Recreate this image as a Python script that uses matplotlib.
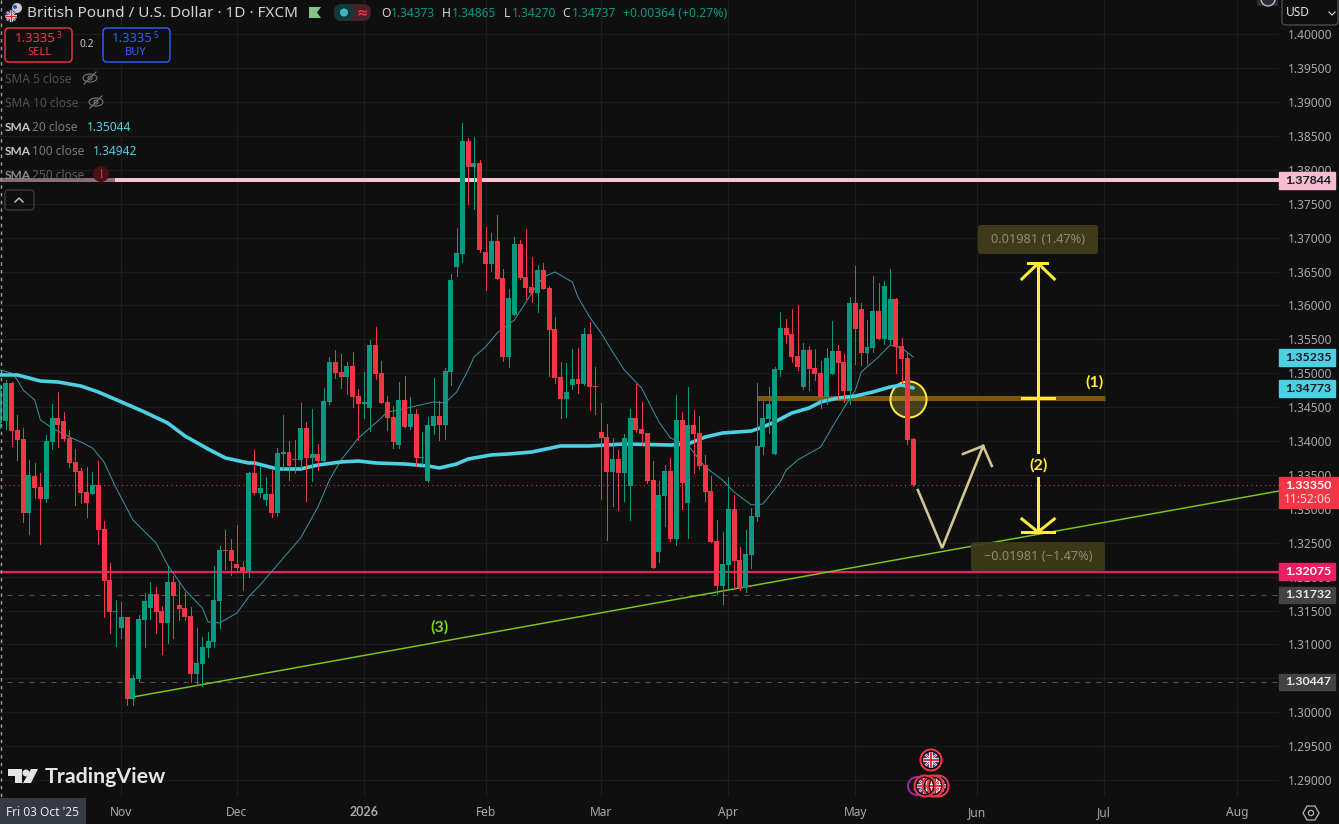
import matplotlib
matplotlib.use('Agg')
import matplotlib.pyplot as plt
from matplotlib.patches import Circle, Rectangle, FancyBboxPatch, Polygon, Ellipse

plt.rcParams['font.family'] = ['Noto Sans', 'DejaVu Sans']

opens = [1.34267,1.34296,1.34857,1.34163,1.34031,1.32939,1.33485,1.33323,1.33146,1.33986,
         1.34341,1.34296,1.34045,1.33692,1.33559,1.33249,1.33219,1.33352,1.32703,1.31951,
         1.31479,1.31243,1.31405,1.30196,1.30491,1.31361,1.31538,1.31745,1.31494,1.31317,
         1.31921,1.31582,1.31538,1.31420,1.30565,1.30712,1.30948,1.31036,1.31641,1.32394,
         1.32394,1.32187,1.32143,1.32084,1.33529,1.33234,1.33131,1.33219,1.32939,1.33810,
         1.33839,1.33736,1.33721,1.34193,1.33751,1.33810,1.33706,1.34577,1.35166,1.35019,
         1.34945,1.35108,1.34665,1.34547,1.34488,1.35417,1.35004,1.34577,1.34355,1.33942,
         1.34606,1.34208,1.34400,1.33751,1.33411,1.34222,1.34370,1.34237,1.35019,1.36568,
         1.36760,1.38426,1.38043,1.38102,1.36789,1.36612,1.36951,1.36406,1.35240,1.35860,
         1.36907,1.36420,1.36273,1.36184,1.36524,1.36258,1.35653,1.34945,1.34621,1.34827,
         1.34916,1.34842,1.35580,1.34813,1.34134,1.34060,1.33544,1.33736,1.33529,1.33337,
         1.34341,1.34178,1.34119,1.33426,1.32364,1.33190,1.33559,1.32556,1.34311,1.33087,
         1.34237,1.34119,1.33647,1.33264,1.32526,1.31862,1.32172,1.32998,1.32246,1.31833,
         1.32320,1.32880,1.33913,1.34326,1.33810,1.35049,1.35668,1.35580,1.35255,1.34798,
         1.35344,1.35078,1.35004,1.34650,1.34990,1.35329,1.35166,1.34739,1.36037,1.35948,
         1.35299,1.35373,1.35919,1.35506,1.35491,1.36096,1.35403,1.35226,1.34031]
highs = [1.34827,1.34901,1.34872,1.34385,1.34193,1.33721,1.33677,1.33529,1.34090,1.34547,
         1.34724,1.34429,1.34163,1.33883,1.33603,1.33618,1.33544,1.33706,1.32821,1.32202,
         1.31656,1.31627,1.31405,1.30550,1.31435,1.31759,1.31921,1.31848,1.31568,1.32172,
         1.32010,1.31936,1.31774,1.31553,1.31243,1.31110,1.31184,1.32157,1.32453,1.32689,
         1.32556,1.32762,1.32231,1.33544,1.33868,1.33633,1.33470,1.33573,1.33898,1.34385,
         1.34001,1.34016,1.34562,1.34281,1.34473,1.33957,1.34783,1.35240,1.35344,1.35285,
         1.35166,1.35314,1.34768,1.35019,1.35491,1.35683,1.35181,1.34665,1.34518,1.34872,
         1.34960,1.34650,1.34473,1.34134,1.34355,1.34931,1.34591,1.35078,1.36465,1.37143,
         1.38692,1.38471,1.38485,1.38146,1.37158,1.37069,1.37335,1.36538,1.36243,1.37010,
         1.36966,1.37128,1.36715,1.36597,1.36627,1.36288,1.35830,1.35166,1.35152,1.35359,
         1.35373,1.35668,1.35757,1.35093,1.34562,1.34252,1.34045,1.33868,1.34104,1.34473,
         1.34842,1.34577,1.34119,1.33706,1.33411,1.33647,1.33751,1.34680,1.34429,1.34798,
         1.34459,1.34370,1.33795,1.33485,1.32836,1.32659,1.33470,1.33205,1.32438,1.32689,
         1.33013,1.34857,1.34591,1.34798,1.35093,1.35904,1.35801,1.35948,1.36007,1.35447,
         1.35403,1.35359,1.35181,1.35373,1.35771,1.35417,1.35285,1.36125,1.36583,1.36037,
         1.35786,1.36435,1.36332,1.36361,1.36538,1.36111,1.35521,1.35314,1.34045]
lows = [1.34193,1.34178,1.33928,1.33721,1.32806,1.32630,1.33160,1.32482,1.33101,1.33883,
        1.33913,1.34001,1.33618,1.33057,1.33087,1.32880,1.33219,1.32482,1.31405,1.31169,
        1.30977,1.31095,1.30107,1.30107,1.30461,1.30963,1.31376,1.31169,1.30859,1.31022,
        1.31095,1.31361,1.31361,1.30447,1.30402,1.30387,1.30815,1.30963,1.31243,1.32113,
        1.32025,1.32084,1.31804,1.31995,1.33219,1.33175,1.33057,1.32880,1.32895,1.33588,
        1.33426,1.33529,1.33603,1.33116,1.33411,1.33573,1.33706,1.34547,1.34931,1.34783,
        1.34695,1.34503,1.34016,1.34341,1.34149,1.34916,1.34562,1.34163,1.33898,1.33898,
        1.34208,1.34178,1.33633,1.33662,1.33396,1.34104,1.34016,1.34031,1.34827,1.36435,
        1.36642,1.37497,1.37423,1.36789,1.36229,1.36509,1.36391,1.35181,1.35093,1.35860,
        1.36391,1.36096,1.36051,1.35904,1.36243,1.34960,1.34857,1.34341,1.34355,1.34768,
        1.34709,1.34827,1.34459,1.34400,1.33146,1.32541,1.33043,1.32983,1.33116,1.32836,
        1.34134,1.33942,1.33382,1.32128,1.32216,1.32748,1.32526,1.32467,1.32998,1.32570,
        1.33529,1.33588,1.33116,1.32511,1.31745,1.31597,1.31833,1.31833,1.31804,1.31774,
        1.32128,1.32821,1.33810,1.34119,1.33810,1.34960,1.35447,1.35166,1.35049,1.34768,
        1.34754,1.34901,1.34488,1.34547,1.34990,1.34621,1.34577,1.34547,1.35137,1.35122,
        1.35137,1.35314,1.35506,1.35432,1.35432,1.35004,1.34857,1.33957,1.33337]
closes = [1.34739,1.34857,1.34149,1.34016,1.32939,1.33500,1.33308,1.33146,1.34001,1.34341,
          1.34237,1.34031,1.33677,1.33544,1.33234,1.33087,1.33352,1.32689,1.31936,1.31479,
          1.31494,1.31405,1.30196,1.30506,1.31376,1.31641,1.31745,1.31479,1.31317,1.31921,
          1.31715,1.31523,1.31405,1.30565,1.30727,1.30963,1.31051,1.31656,1.32394,1.32379,
          1.32231,1.32128,1.32084,1.33529,1.33234,1.33308,1.33219,1.32939,1.33824,1.33839,
          1.33633,1.33721,1.34193,1.33751,1.33810,1.33706,1.34591,1.35166,1.35004,1.34945,
          1.35108,1.34650,1.34547,1.34577,1.35417,1.34990,1.34562,1.34341,1.33986,1.34606,
          1.34208,1.34400,1.33751,1.33765,1.34237,1.34370,1.34237,1.35034,1.36376,1.36774,
          1.38426,1.38043,1.38102,1.36819,1.36612,1.36951,1.36391,1.35240,1.36111,1.36907,
          1.36406,1.36258,1.36184,1.36524,1.36243,1.35639,1.34931,1.34621,1.34724,1.34916,
          1.34842,1.35580,1.34798,1.34798,1.34045,1.33544,1.33736,1.33529,1.34045,1.34341,
          1.34163,1.34104,1.33411,1.32128,1.33205,1.33559,1.32556,1.34311,1.33382,1.34237,
          1.34104,1.33633,1.33249,1.32511,1.31862,1.32187,1.32998,1.32231,1.31833,1.32335,
          1.32895,1.33928,1.34341,1.34547,1.35063,1.35668,1.35565,1.35240,1.35093,1.35344,
          1.35063,1.34990,1.34650,1.35226,1.35329,1.35152,1.34739,1.36037,1.35653,1.35299,
          1.35388,1.35919,1.35506,1.36288,1.36096,1.35388,1.35211,1.34016,1.33350]
# first bar is Fri 03 Oct '25, weekdays only
days = list(range(len(closes)))

sma20_x = [0,2,3,4,6,7,9,12,14,16,18,20,23,27,29,32,35,36,38,41,43,45,52,55,57,59,62,65,67,69,72,75,77,79,
           81,82,84,86,89,92,94,96,99,100,102,104,106,108,111,114,116,119,122,125,127,130,132,135,136,138,
           142,144,146,148,149,152,154,156,158]
sma20_y = [1.35049,1.35004,1.34901,1.34754,1.34606,1.34311,1.34193,1.34060,1.33986,1.33898,1.33692,1.33323,
           1.32836,1.32497,1.32172,1.31804,1.31538,1.31332,1.31317,1.31464,1.31700,1.31877,1.32570,1.33028,
           1.33426,1.33721,1.34045,1.34267,1.34429,1.34459,1.34518,1.34577,1.34562,1.34724,1.35049,1.35240,
           1.35388,1.35594,1.35786,1.36184,1.36420,1.36494,1.36347,1.36125,1.35830,1.35594,1.35314,1.35049,
           1.34783,1.34281,1.34045,1.33942,1.33618,1.33426,1.33249,1.33057,1.33072,1.33396,1.33573,1.33721,
           1.33913,1.34208,1.34488,1.34754,1.35019,1.35240,1.35417,1.35373,1.35240]
sma100_x = [0,3,7,10,14,17,21,25,29,32,36,39,43,44,48,52,55,59,62,65,70,74,76,79,81,85,88,92,97,102,108,116,
            119,122,125,130,132,134,137,140,142,145,148,151,154,156,158]
sma100_y = [1.34975,1.34975,1.34886,1.34872,1.34812,1.34724,1.34577,1.34429,1.34267,1.34075,1.33883,1.33751,
            1.33677,1.33677,1.33588,1.33588,1.33647,1.33692,1.33706,1.33677,1.33662,1.33633,1.33603,1.33662,
            1.33736,1.33795,1.33810,1.33839,1.33928,1.33928,1.33957,1.33942,1.33957,1.34060,1.34119,1.34149,
            1.34208,1.34281,1.34414,1.34488,1.34577,1.34636,1.34665,1.34724,1.34798,1.34827,1.34783]

price_ticks = [1.29,1.295,1.30,1.305,1.31,1.315,1.32,1.325,1.33,1.335,1.34,1.345,1.35,1.355,1.36,1.365,
               1.37,1.375,1.38,1.385,1.39,1.395,1.40]
month_pos = [21,41,63,84,104,126,148,169,191,214]
month_labels = ['Nov','Dec','2026','Feb','Mar','Apr','May','Jun','Jul','Aug']

pink_level = 1.37844
red_level = 1.32075
dash_levels = [1.31732,1.30447]
last_price = 1.33350
mid_level = 1.34640
up_target = 1.36621
down_target = 1.32659
trend_x = [23.0,221.3]
trend_y = [1.30225,1.33264]
path_x = [158.8,163.0,170.1]
path_y = [1.33278,1.32423,1.33928]
tags = [(1.37844,'#F8BBD0','#131722'),(1.35235,'#4DD0E1','#131722'),(1.34773,'#4DD0E1','#131722'),
        (1.32075,'#E91E63','#FFFFFF'),(1.31732,'#434343','#E8E8E8'),(1.30447,'#434343','#E8E8E8')]

BG = '#0F0F0F'
GRID = '#1D1D1D'
UP = '#089981'
DOWN = '#F23645'
AXTXT = '#A9A9A9'
YEL = '#FFEB3B'
PALE = '#CFC78F'
PX = 0.72  # one pixel in points at dpi 100

fig = plt.figure(figsize=(13.39,8.24),dpi=100,facecolor=BG)
ax = fig.add_axes([0,27/824,1279/1339,797/824],facecolor=BG)
ax.set_xlim(0,1279/5.78)
ax.set_ylim(1.28750,1.40506)
for s in ax.spines.values():
    s.set_visible(False)
ax.yaxis.tick_right()
ax.set_yticks(price_ticks)
ax.set_yticklabels(['%.5f'%p for p in price_ticks],color=AXTXT,fontsize=8.6)
ax.set_xticks(month_pos)
ax.set_xticklabels(month_labels,color=AXTXT,fontsize=8.6)
ax.get_xticklabels()[2].set_family('Lato')
ax.get_xticklabels()[2].set_fontweight('bold')
ax.get_xticklabels()[2].set_fontsize(9)
ax.tick_params(axis='both',length=0)
ax.tick_params(axis='y',pad=6.5)
ax.tick_params(axis='x',pad=6.5)
ax.grid(True,color=GRID,lw=1.2*PX,zorder=0)
ax.set_axisbelow(True)

# horizontal levels
ax.hlines(pink_level,0,19.9,color='#8A6C76',lw=4*PX,zorder=2)
ax.hlines(pink_level,19.9,221.3,color='#F9C2D3',lw=4*PX,zorder=2)
ax.axhline(red_level,color='#E91E63',lw=2.2*PX,zorder=2)
for lv in dash_levels:
    ax.hlines(lv,1.2,221.3,color='#555555',lw=1*PX,linestyles=(0,(5,6)),zorder=2)
ax.axhline(last_price,color=DOWN,lw=1*PX,linestyle=(0,(1,3.5)),zorder=2)
ax.plot(trend_x,trend_y,color='#7CC61A',lw=1.5*PX,zorder=2)

# moving averages
ax.plot(sma20_x,sma20_y,color='#3C97A8',lw=0.95*PX,zorder=3)
ax.plot(sma100_x,sma100_y,color='#4DD0E1',lw=3.6*PX,zorder=3,solid_capstyle='round')

# (1) zone and circle
ax.hlines(mid_level,131,191.2,color='#7D5608',lw=5*PX,zorder=2.5)
ax.plot([157.1],[1.34621],'o',ms=26,mfc=(1,0.92,0.23,0.22),mec=YEL,mew=2*PX,zorder=2.6)

# projected path
ax.plot(path_x,path_y,color=PALE,lw=2.6*PX,zorder=2.7,solid_joinstyle='miter')
ax.plot([166.6,170.1,171.6],[1.33810,1.33928,1.33633],color=PALE,lw=2.6*PX,zorder=2.7,solid_joinstyle='miter')

# measure arrow
ARW = 3*PX
ax.plot([179.6,179.6],[up_target,1.33839],color=YEL,lw=ARW,zorder=3)
ax.plot([179.6,179.6],[1.33456,down_target],color=YEL,lw=ARW,zorder=3)
ax.plot([176.8,179.6,182.4],[1.36391,up_target,1.36391],color=YEL,lw=ARW,zorder=3)
ax.plot([176.8,179.6,182.4],[1.32851,down_target,1.32851],color=YEL,lw=ARW,zorder=3)
ax.plot([177.9,181.1],[up_target,up_target],color=YEL,lw=ARW,zorder=3)
ax.plot([176.8,182.4],[down_target,down_target],color=YEL,lw=ARW,zorder=3)
ax.plot([176.8,182.4],[mid_level,mid_level],color=YEL,lw=ARW,zorder=3)
ax.text(179.6,1.33645,'(2)',family='Lato',color=YEL,fontsize=11.5,fontweight='bold',ha='center',va='center',zorder=3)
ax.text(189.3,1.34873,'(1)',family='Lato',color=YEL,fontsize=11.5,fontweight='bold',ha='center',va='center',zorder=3)
ax.text(76.1,1.31258,'(3)',family='Lato',color='#7ED321',fontsize=11.5,fontweight='bold',ha='center',va='center',zorder=3)

# candles
colors = [UP if c >= o else DOWN for o,c in zip(opens,closes)]
ax.vlines(days,lows,highs,colors=colors,lw=1*PX,zorder=4,antialiased=False)
ax.bar(days,[abs(c-o) for o,c in zip(opens,closes)],bottom=[min(o,c) for o,c in zip(opens,closes)],
       width=0.86,color=colors,zorder=4.1,antialiased=False)

# price tags on the axis
yt = ax.get_yaxis_transform()
for price,col,txt_col in tags:
    ax.add_patch(Rectangle((1.0,price-0.00122),56/1279,0.00244,transform=yt,color=col,clip_on=False,zorder=6))
    ax.text(1.0+29/1279,price,'%.5f'%price,transform=yt,color=txt_col,family='Lato',fontsize=8.9,fontweight='bold',
            ha='center',va='center',clip_on=False,zorder=7)
ax.add_patch(Rectangle((1.0,last_price-0.00330),60/1279,0.00450,transform=yt,color=DOWN,clip_on=False,zorder=6))
ax.text(1.0+29/1279,last_price,'%.5f'%last_price,transform=yt,color='white',family='Lato',fontsize=8.9,fontweight='bold',
        ha='center',va='center',clip_on=False,zorder=7)
ax.text(1.0+29/1279,last_price-0.00210,'11:52:06',transform=yt,color='#F6D9DC',fontsize=8.6,
        ha='center',va='center',clip_on=False,zorder=7)

# interface layer in screen pixels
ov = fig.add_axes([0,0,1,1],zorder=10)
ov.set_xlim(0,1339)
ov.set_ylim(824,0)
ov.axis('off')
ov.patch.set_alpha(0)

def txt(x,y,s,color,size=8.6,**kw):
    kw.setdefault('va','center')
    return ov.text(x,y,s,color=color,fontsize=size,**kw)

def box(x0,y0,x1,y1,fc,ec='none',lw=1.0,r=3,alpha=None,z=1):
    p = FancyBboxPatch((x0+r,y0+r),x1-x0-2*r,y1-y0-2*r,boxstyle='round,pad=%d,rounding_size=%d'%(r,r),
                       fc=fc,ec=ec,lw=lw,alpha=alpha,zorder=z)
    ov.add_patch(p)
    return p

def uk_flag(cx,cy,r,ring='#F23645'):
    c = Circle((cx,cy),r,fc='#24408E',ec='none',zorder=3)
    ov.add_patch(c)
    k = r/8.0
    for (a,b,col,w) in [((cx-r,cy-r),(cx+r,cy+r),'white',1.7*k),((cx-r,cy+r),(cx+r,cy-r),'white',1.7*k),
                        ((cx-r,cy-r),(cx+r,cy+r),'#D8262C',0.7*k),((cx-r,cy+r),(cx+r,cy-r),'#D8262C',0.7*k),
                        ((cx-r,cy),(cx+r,cy),'white',2.6*k),((cx,cy-r),(cx,cy+r),'white',2.6*k),
                        ((cx-r,cy),(cx+r,cy),'#D8262C',1.3*k),((cx,cy-r),(cx,cy+r),'#D8262C',1.3*k)]:
        l, = ov.plot([a[0],b[0]],[a[1],b[1]],color=col,lw=w,zorder=3.1,solid_capstyle='butt')
        l.set_clip_path(c)
    if ring:
        ov.add_patch(Circle((cx,cy),r+1,fc='none',ec='black',lw=1.0,zorder=3.2))
        ov.add_patch(Circle((cx,cy),r+2.5,fc='none',ec=ring,lw=1.5,zorder=3.2))

def eye(cx,cy):
    ov.add_patch(Ellipse((cx,cy),14,8,fc='none',ec='#777777',lw=0.8))
    ov.add_patch(Circle((cx,cy),2,fc='none',ec='#777777',lw=0.8))
    ov.plot([cx-6,cx+6],[cy+6,cy-6],color='#777777',lw=0.8)

# crosshair column at the first bar
ov.plot([0.7,0.7],[0,797],color='#9C9C9C',lw=1.4*PX,linestyle=(0,(2.5,3)))

# header
ov.add_patch(Circle((17,8),5,fc='#C8CAD6',ec='none',zorder=3))
ov.add_patch(Circle((15,7),2,fc='#2F4FA8',ec='none',zorder=3.05))
uk_flag(11,16,6,ring=None)
txt(27,13,'British Pound / U.S. Dollar · 1D · FXCM',"#D1D4DC",11.0)
ov.add_patch(Polygon([(309,7),(321,7),(317,12.5),(321,18),(309,18)],fc='#81C784',ec='none'))
box(334,4,371,21,'#4A1F27',r=8)
box(334,4,354,21,'#123A3C',r=8,z=1.1)
ov.add_patch(Circle((344,12.5),4,fc='#3FB6C4',ec='none',zorder=2))
txt(362,12.5,'≈',DOWN,10,ha='center',fontweight='bold',zorder=2)
ohlc_lx = [381,442,504,562]
ohlc_vx = [391,452,512,572]
ohlc_l = ['O','H','L','C']
ohlc_v = ['1.34373','1.34865','1.34270','1.34737']
for lx,vx,l,v in zip(ohlc_lx,ohlc_vx,ohlc_l,ohlc_v):
    txt(lx,13,l,'#D1D4DC',8.8)
    txt(vx,13,v,UP,8.6)
txt(623,13,'+0.00364 (+0.27%)',UP,8.8)

box(5,28,72,62,BG,ec=DOWN,lw=1.0,r=4)
txt(56,38,'1.3335',DOWN,9.4,ha='right',fontweight='medium')
txt(57,35.5,'3',DOWN,6,ha='left')
txt(39,52,'SELL',DOWN,8,ha='center')
txt(87,44,'0.2','#C8C8C8',7.4,ha='center')
box(103,28,170,62,BG,ec='#2962FF',lw=1.0,r=4)
txt(153,38,'1.3335','#2962FF',9.4,ha='right',fontweight='medium')
txt(154,35.5,'5','#2962FF',6,ha='left')
txt(136,52,'BUY','#2962FF',8,ha='center')

# legend rows
txt(5,79,'SMA 5 close','#505050',8.6)
eye(90,78)
txt(5,103,'SMA 10 close','#505050',8.6)
eye(96,102)
txt(5,127,'SMA','#C4C7CE',8.6,family='Lato',fontweight='bold')
txt(32,127,'20 close','#787B86',8.6)
txt(87,127,'1.35044','#4DD0E1',8.6)
txt(5,151,'SMA','#C4C7CE',8.6,family='Lato',fontweight='bold')
txt(32,151,'100 close','#787B86',8.6)
txt(93,151,'1.34942','#4DD0E1',8.6)
txt(5,175,'SMA','#8C8F96',8.6,family='Lato',fontweight='bold')
txt(32,175,'250 close','#606060',8.6)
ov.add_patch(Circle((101,174),8,fc='#4A1016',ec='none'))
txt(101,174,'!',DOWN,9,ha='center',fontweight='bold')
box(5,190,34,210,'none',ec='#3A3A3A',lw=1.0,r=3)
ov.plot([15,19,23],[202,198,202],color='#C8C8C8',lw=1.0)

# measure boxes
box(978,225,1098,254,'#3F3B1A',r=3)
txt(1038,239.5,'0.01981 (1.47%)','#8E8B6E',9.2,ha='center')
box(971,542,1105,571,'#3F3B1A',alpha=0.92,r=3,z=1)
txt(1038,556.5,'−0.01981 (−1.47%)','#8E8B6E',9.2,ha='center')

# top right
box(1257,-6,1278,6,'#2A2E39',r=2)
ov.add_patch(Circle((1268,-1),7,fc='none',ec='#C8C8C8',lw=0.9))
box(1282,-3,1338,25,BG,ec='#4A4A4A',lw=1.0,r=4)
txt(1286,12,'USD','#E0E3EB',8.6)
ov.plot([1329,1332,1335],[12,15,12],color='#C8C8C8',lw=0.9)

# bottom
box(0,798,86,830,'#363A45',r=1)
txt(43,812,"Fri 03 Oct '25",'#E6E8EE',8.6,ha='center')
ov.add_patch(Polygon([(1303,813),(1307,806),(1315,806),(1319,813),(1315,820),(1307,820)],fc='none',ec='#B2B5BE',lw=0.9))
ov.add_patch(Circle((1311,813),2.6,fc='none',ec='#B2B5BE',lw=0.9))

# logo
ov.add_patch(Polygon([(8,769),(22,769),(22,783),(15,783),(15,776),(8,776)],fc='#E4E4E4',ec='none'))
ov.add_patch(Circle((26,773),3.5,fc='#E4E4E4',ec='none'))
ov.add_patch(Polygon([(31,769),(38,769),(31,783),(23,783)],fc='#E4E4E4',ec='none'))
txt(45,777,'TradingView','#E4E4E4',15.4,family='Lato',fontweight='bold')

# event markers
ov.add_patch(Circle((917,786),9,fc=BG,ec='#9C27B0',lw=1.4,zorder=2))
ov.add_patch(Polygon([(913,790),(921,782),(919,790)],fc='#9C27B0',ec='none',zorder=2.1))
uk_flag(938,786,8)
uk_flag(933,786,8)
uk_flag(925,786,8)
uk_flag(931,760,8)

fig.savefig('out.png',dpi=100,facecolor=BG)
